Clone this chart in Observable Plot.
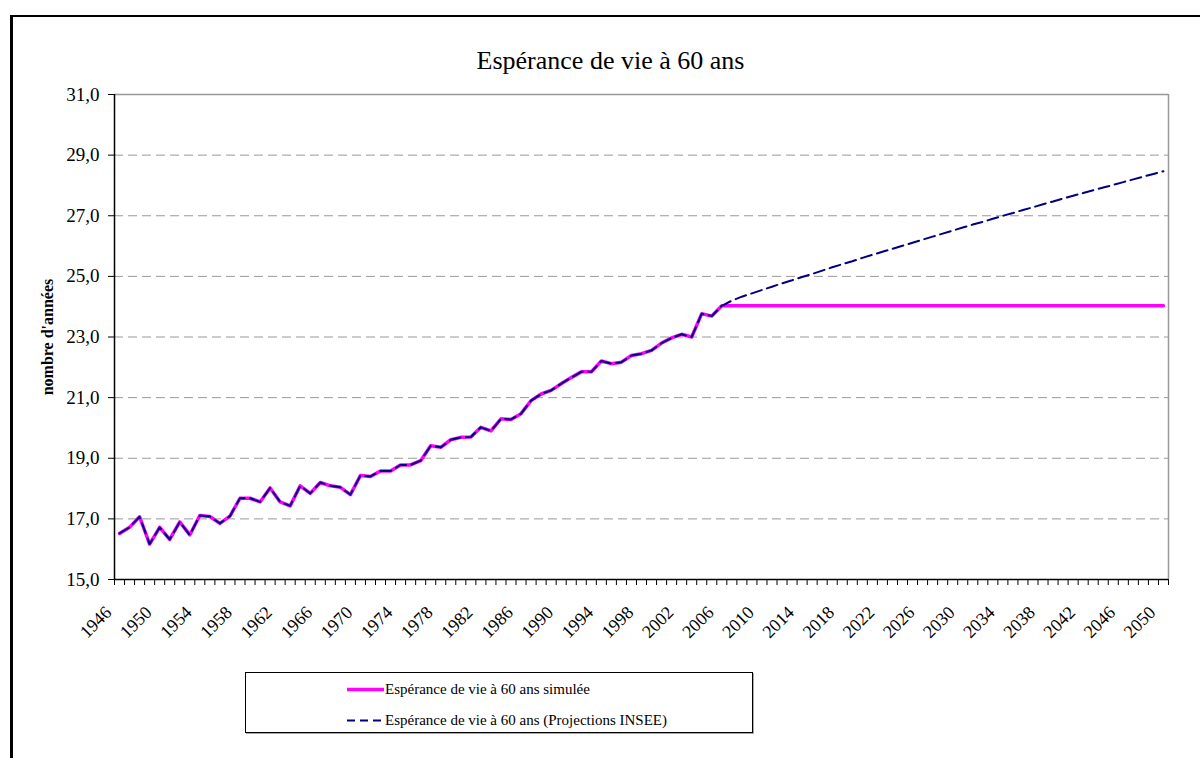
<!DOCTYPE html>
<html>
<head>
<meta charset="utf-8">
<script src="https://cdn.jsdelivr.net/npm/d3@7"></script>
<script src="https://cdn.jsdelivr.net/npm/@observablehq/plot@0.6"></script>
<style>
  html, body { margin: 0; padding: 0; background: #fff; overflow: hidden; }
  #wrap { position: relative; width: 1200px; height: 758px; overflow: hidden;
          font-family: "Liberation Serif", "Times New Roman", serif; color: #000; }
  #frame { position: absolute; left: 10px; top: 15px; width: 1400px; height: 1000px;
           border-left: 3px solid #000; border-top: 2px solid #000; box-sizing: border-box; }
  #chart { position: absolute; left: 0; top: 0; }
  #title { position: absolute; left: 0; top: 48px; width: 1221px; text-align: center;
           font-size: 26px; line-height: 26px; white-space: nowrap; }
  #ylabel { position: absolute; left: -52px; top: 329px; width: 200px; height: 16px;
            line-height: 16px; text-align: center; font-size: 16px; font-weight: bold;
            transform: rotate(-90deg); white-space: nowrap; }
  #legend { position: absolute; left: 245px; top: 672px; width: 508px; height: 61px;
            border: 1px solid #000; box-sizing: border-box; background: #fff;
            box-shadow: 1px 1px 0 #aaa; }
  .lrow { position: absolute; left: 100px; height: 15px; line-height: 15px; font-size: 15px;
          white-space: nowrap; }
  .lrow svg { position: absolute; left: 0; top: 0; }
  .lrow span { position: absolute; left: 39px; top: 0; }
</style>
</head>
<body>
<div id="wrap">
  <div id="frame"></div>
  <div id="chart"></div>
  <div id="title"></div>
  <div id="ylabel"></div>
  <div id="legend"></div>
</div>
<script>
// ---- Data ----
const titleText = "Espérance de vie à 60 ans";
const yLabelText = "nombre d'années";
const seriesNames = ["Espérance de vie à 60 ans simulée", "Espérance de vie à 60 ans (Projections INSEE)"];

const firstYear = 1946;
// Observed / simulated values 1946..2006
const historic = [16.52,16.72,17.07,16.17,16.72,16.32,16.90,16.47,17.11,17.08,
                  16.85,17.09,17.68,17.68,17.56,18.02,17.56,17.43,18.09,17.84,
                  18.20,18.09,18.04,17.80,18.43,18.40,18.58,18.58,18.78,18.78,
                  18.92,19.41,19.36,19.61,19.69,19.70,20.02,19.90,20.30,20.28,
                  20.47,20.90,21.12,21.24,21.46,21.66,21.85,21.85,22.21,22.12,
                  22.17,22.39,22.45,22.56,22.80,22.97,23.09,23.00,23.77,23.69,
                  24.03];
// Simulated series after 2006 (2007..2050): held constant
const simulatedFuture = [24.03,24.03,24.03,24.03,24.03,24.03,24.03,24.03,24.03,24.03,
                         24.03,24.03,24.03,24.03,24.03,24.03,24.03,24.03,24.03,24.03,
                         24.03,24.03,24.03,24.03,24.03,24.03,24.03,24.03,24.03,24.03,
                         24.03,24.03,24.03,24.03,24.03,24.03,24.03,24.03,24.03,24.03,
                         24.03,24.03,24.03,24.03];
// INSEE projection 2007..2050
const inseeFuture = [24.20,24.33,24.44,24.55,24.66,24.77,24.87,24.98,25.08,25.19,
                     25.30,25.40,25.50,25.61,25.71,25.81,25.91,26.01,26.11,26.21,
                     26.31,26.41,26.51,26.61,26.71,26.80,26.90,27.00,27.09,27.19,
                     27.28,27.38,27.47,27.57,27.66,27.75,27.84,27.93,28.02,28.11,
                     28.20,28.29,28.38,28.47];

const yTicks = [15, 17, 19, 21, 23, 25, 27, 29, 31];
const gridValues = [17, 19, 21, 23, 25, 27, 29];
const xLabelYears = [1946,1950,1954,1958,1962,1966,1970,1974,1978,1982,1986,1990,1994,1998,
                     2002,2006,2010,2014,2018,2022,2026,2030,2034,2038,2042,2046,2050];

// ---- Build tables ----
const simValues = historic.concat(simulatedFuture);
const projValues = historic.concat(inseeFuture);
const simData = simValues.map((v, i) => ({year: firstYear + i, value: v}));
const projData = projValues.map((v, i) => ({year: firstYear + i, value: v}));
const lastYear = firstYear + simValues.length - 1;
const xDomain = [firstYear - 0.5, lastYear + 0.5];
const boundaryTicks = d3.range(firstYear - 0.5, lastYear + 1, 1);

const fmt = d => d.toFixed(1).replace(".", ",");
const serif = '"Liberation Serif", "Times New Roman", serif';

const chart = Plot.plot({
  width: 1200,
  height: 640,
  marginLeft: 114,
  marginRight: 32,
  marginTop: 94,
  marginBottom: 61,
  style: {fontFamily: serif, background: "transparent", overflow: "visible", color: "#000"},
  x: {type: "linear", domain: xDomain},
  y: {domain: [yTicks[0], yTicks[yTicks.length - 1]]},
  marks: [
    Plot.ruleY(gridValues, {stroke: "#999", strokeWidth: 1, strokeDasharray: "9,5"}),
    Plot.ruleY([yTicks[yTicks.length - 1]], {stroke: "#999", strokeWidth: 1.5}),
    Plot.ruleX([xDomain[1]], {stroke: "#999", strokeWidth: 1.5}),
    Plot.line(simData, {x: "year", y: "value", stroke: "#FF00FF", strokeWidth: 3.5}),
    Plot.line(projData, {x: "year", y: "value", stroke: "#000080", strokeWidth: 2, strokeDasharray: "11,5.5"}),
    Plot.axisY({ticks: yTicks, tickSize: 6, tickPadding: 9, tickFormat: fmt, fontSize: 19, label: null}),
    Plot.ruleX([xDomain[0]], {stroke: "#000", strokeWidth: 1.5}),
    Plot.axisX({ticks: boundaryTicks, tickSize: 6, tickFormat: () => "", label: null}),
    Plot.axisX({ticks: xLabelYears, tickSize: 0, tickPadding: 0, tickRotate: -45, fontSize: 18,
                textAnchor: "end", lineAnchor: "middle", dx: -11, dy: 30, tickFormat: d => String(d), label: null}),
    Plot.ruleY([yTicks[0]], {stroke: "#000", strokeWidth: 1.5})
  ]
});
document.getElementById("chart").appendChild(chart);

document.getElementById("title").textContent = titleText;
document.getElementById("ylabel").textContent = yLabelText;

// ---- Legend ----
const legend = document.getElementById("legend");
const rows = [
  {name: seriesNames[0], stroke: "#FF00FF", width: 3.5, dash: null, top: 9},
  {name: seriesNames[1], stroke: "#000080", width: 2, dash: "8,5", top: 40}
];
rows.forEach(r => {
  const row = document.createElement("div");
  row.className = "lrow";
  row.style.top = r.top + "px";
  row.innerHTML = `<svg width="38" height="15"><line x1="1" x2="38" y1="7.5" y2="7.5" stroke="${r.stroke}" stroke-width="${r.width}" ${r.dash ? `stroke-dasharray="${r.dash}"` : ""}/></svg><span></span>`;
  row.querySelector("span").textContent = r.name;
  legend.appendChild(row);
});
</script>
</body>
</html>
